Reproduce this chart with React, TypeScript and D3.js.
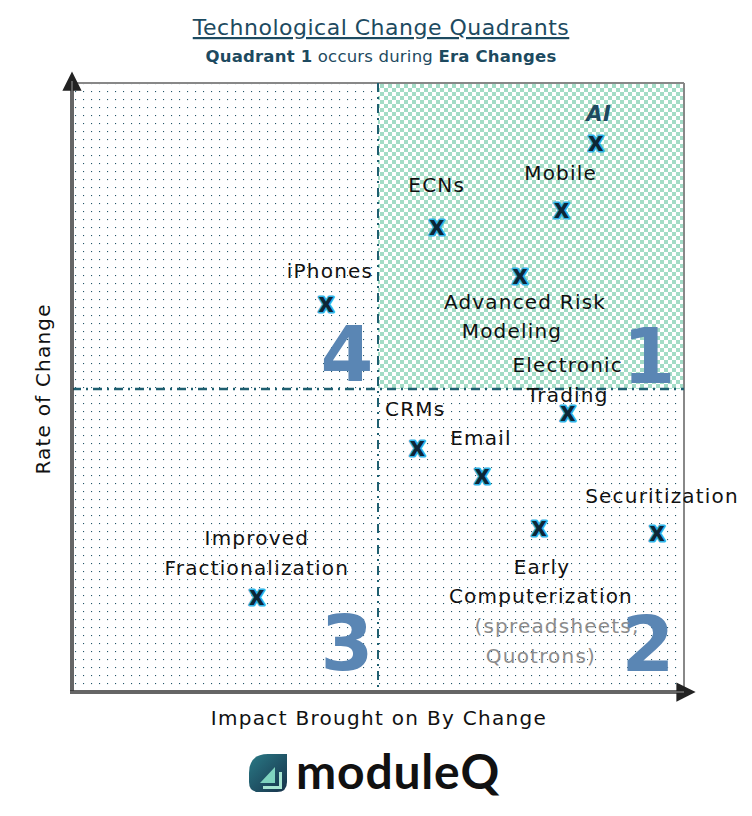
import React from "react";
import * as d3 from "d3";

const W = 752;
const H = 816;

// Data (impact on x, rate of change on y, in 0–100 units)
const names = [
  "AI",
  "Mobile",
  "ECNs",
  "Advanced Risk Modeling",
  "iPhones",
  "Electronic Trading",
  "CRMs",
  "Email",
  "Securitization",
  "Early Computerization",
  "Improved Fractionalization",
];
const impact = [85.6, 80.0, 59.6, 73.2, 41.5, 81.0, 56.4, 67.0, 95.6, 76.3, 30.2];
const rate = [90.4, 79.4, 76.6, 68.5, 63.9, 45.9, 40.2, 35.6, 26.2, 27.0, 15.6];
const labelLines = [
  ["AI"],
  ["Mobile"],
  ["ECNs"],
  ["Advanced Risk", "Modeling"],
  ["iPhones"],
  ["Electronic", "Trading"],
  ["CRMs"],
  ["Email"],
  ["Securitization"],
  ["Early", "Computerization", "(spreadsheets,", "Quotrons)"],
  ["Improved", "Fractionalization"],
];
const quadrantNumbers = ["1", "2", "3", "4"];
const impactSplit = 50;
const rateSplit = 49.6;

// layout: label anchor offsets (px) relative to the point, and per-line x shifts
const labelLayout: { dx: number[]; dy: number; lh: number }[] = [
  { dx: [3], dy: -26, lh: 30 },
  { dx: [-1], dy: -34, lh: 30 },
  { dx: [0], dy: -39, lh: 30 },
  { dx: [5, -8], dy: 29, lh: 29.5 },
  { dx: [4], dy: -30, lh: 30 },
  { dx: [0, 0], dy: -45, lh: 30 },
  { dx: [-2], dy: -35, lh: 30 },
  { dx: [-1], dy: -34, lh: 30 },
  { dx: [5], dy: -33, lh: 30 },
  { dx: [3, 2, 18, 2], dy: 42, lh: 29.7 },
  { dx: [0, 0], dy: -56, lh: 30 },
];
const numberLayout = [
  [-35, -6],
  [-36, -19],
  [-31, -20],
  [-31, -8],
];

const plot = { left: 72, right: 684, top: 83, bottom: 690 };
const x = d3.scaleLinear().domain([0, 100]).range([plot.left, plot.right]);
const y = d3.scaleLinear().domain([0, 100]).range([plot.bottom, plot.top]);

const FONT = "'DejaVu Sans', sans-serif";
const DARK = "#1d4a60";

export default function App() {
  const mx = x(impactSplit);
  const my = y(rateSplit);
  const qx = [x(100), x(100), mx, mx];
  const qy = [my, y(0), y(0), my];
  return (
    <svg width={W} height={H} style={{ display: "block", position: "absolute", left: 0, top: 0 }} fontFamily={FONT}>
      <defs>
        <pattern id="dots" width={8} height={8} patternUnits="userSpaceOnUse">
          <rect x={3} y={3} width={1.1} height={1.1} fill="#24566a" />
        </pattern>
        <pattern id="checker" width={8} height={8} patternUnits="userSpaceOnUse">
          <rect width={8} height={8} fill="#ffffff" />
          <rect x={0} y={0} width={4} height={4} fill="#a3dcc6" />
          <rect x={4} y={4} width={4} height={4} fill="#a3dcc6" />
        </pattern>
        <linearGradient id="logoGrad" x1="0" y1="0" x2="1" y2="1">
          <stop offset="0%" stopColor="#2a7a86" />
          <stop offset="100%" stopColor="#17324a" />
        </linearGradient>
        <marker id="arrowUp" viewBox="0 0 10 10" refX={5} refY={5} markerWidth={5.5} markerHeight={5.5} orient="auto">
          <path d="M0,0 L10,5 L0,10 z" fill="#222" />
        </marker>
      </defs>

      <rect width={W} height={H} fill="#fff" />

      {/* Title */}
      <text x={381} y={35} textAnchor="middle" fontSize={22} fill={DARK} textDecoration="underline" letterSpacing={0.5}>
        Technological Change Quadrants
      </text>
      <text x={381} y={62} textAnchor="middle" fontSize={16.5} fill={DARK} letterSpacing={0.2}>
        <tspan fontWeight="bold">Quadrant 1</tspan>
        <tspan> occurs during </tspan>
        <tspan fontWeight="bold">Era Changes</tspan>
      </text>

      {/* background patterns */}
      <rect x={plot.left} y={plot.top} width={plot.right - plot.left} height={plot.bottom - plot.top} fill="url(#dots)" />
      <rect x={mx} y={plot.top} width={plot.right - mx} height={my - plot.top} fill="url(#checker)" />

      {/* frame */}
      <line x1={plot.left} x2={plot.right} y1={plot.top} y2={plot.top} stroke="#888" strokeWidth={2} />
      <line x1={plot.right} x2={plot.right} y1={plot.top} y2={plot.bottom} stroke="#888" strokeWidth={2} />

      {/* dash-dot dividers */}
      <line x1={mx} x2={mx} y1={plot.top} y2={plot.bottom} stroke="#1f5f70" strokeWidth={2} strokeDasharray="9,5,2,5" />
      <line x1={plot.left} x2={plot.right} y1={my} y2={my} stroke="#1f5f70" strokeWidth={2.5} strokeDasharray="9,5,2,5" />

      {/* big quadrant numbers */}
      {quadrantNumbers.map((q, i) => {
        const [dx, dy] = numberLayout[i];
        return (
          <text key={q} x={qx[i] + dx} y={qy[i] + dy} textAnchor="middle" fontSize={76} fontWeight="bold" fill="#5a86b4" fontFamily="'DejaVu Sans', sans-serif">
            {q}
          </text>
        );
      })}

      {/* axes */}
      <line x1={plot.left} x2={plot.left} y1={plot.bottom + 3} y2={plot.top - 2} stroke="#333" strokeWidth={3.5} markerEnd="url(#arrowUp)" />
      <line x1={plot.left} x2={plot.left} y1={plot.bottom + 3} y2={plot.top - 2} stroke="#999" strokeWidth={1} />
      <line x1={plot.left - 2} x2={plot.right + 2} y1={plot.bottom + 2} y2={plot.bottom + 2} stroke="#333" strokeWidth={3.5} markerEnd="url(#arrowUp)" />
      <line x1={plot.left - 2} x2={plot.right} y1={plot.bottom + 2} y2={plot.bottom + 2} stroke="#999" strokeWidth={1} />

      {/* axis titles */}
      <text x={379} y={725} textAnchor="middle" fontSize={20} fill="#111" letterSpacing={1.3}>
        Impact Brought on By Change
      </text>
      <text transform={`translate(50,${my}) rotate(-90)`} textAnchor="middle" fontSize={20} fill="#111" letterSpacing={1.2}>
        Rate of Change
      </text>

      {/* points */}
      {names.map((n, i) => {
        const px = x(impact[i]);
        const py = y(rate[i]);
        const L = labelLayout[i];
        return (
          <g key={n}>
            {labelLines[i].map((line, j) => {
              const isAI = n === "AI";
              const gray = n === "Early Computerization" && j >= 2;
              return (
                <text
                  key={j}
                  x={px + L.dx[j]}
                  y={py + L.dy + j * L.lh}
                  textAnchor="middle"
                  dominantBaseline="middle"
                  fontSize={isAI ? 21 : 20}
                  fontWeight={isAI ? "bold" : "normal"}
                  fontStyle={isAI ? "italic" : "normal"}
                  fill={isAI ? DARK : gray ? "#8c8c8c" : "#111"}
                  letterSpacing={isAI ? 0.6 : 1.2}
                >
                  {line}
                </text>
              );
            })}
            <text
              x={px}
              y={py}
              textAnchor="middle"
              dominantBaseline="central"
              fontSize={26}
              fontWeight="bold"
              fill="#0d2636"
              stroke="#2fb3e6"
              strokeWidth={3}
              strokeLinejoin="round"
              paintOrder="stroke"
              fontFamily="'Open Sans', sans-serif"
            >
              x
            </text>
          </g>
        );
      })}

      {/* logo */}
      <g transform="translate(249,754)">
        <path d="M19,0 H38 V28 Q38,38 28,38 H10 Q0,38 0,28 V19 Q0,0 19,0 z" fill="url(#logoGrad)" />
        <path d="M11,29 L26,13 L26,29 z" fill="#7fd4bf" />
        <path d="M14,32 L30,32 L30,18 L33,18 L33,35 L14,35 z" fill="#a8e6d2" />
      </g>
      <text x={296} y={789} fontSize={48} fontWeight="bold" fill="#111" fontFamily="'Lato', sans-serif" letterSpacing={0.8}>
        moduleQ
      </text>
    </svg>
  );
}
